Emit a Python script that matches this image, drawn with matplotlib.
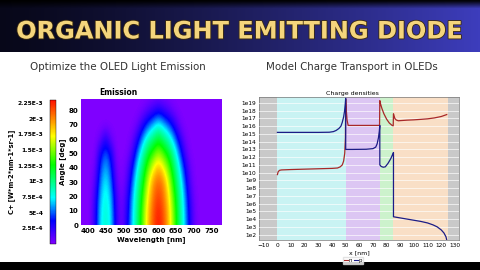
import numpy as np
import matplotlib
matplotlib.use('Agg')
import matplotlib.pyplot as plt
from matplotlib.colors import LinearSegmentedColormap
from matplotlib import patheffects as pe
from matplotlib.lines import Line2D

#%% data - emission map (values in 1e-3 W m-2 nm-1 sr-1)
wavelengths = [375, 390, 405, 420, 435, 450, 465, 480, 495, 510, 525, 540, 555, 570,
               585, 600, 615, 630, 645, 660, 675, 690, 705, 720, 735, 750, 765, 780]
angles = [0, 10, 20, 30, 40, 50, 60, 70, 80, 90]
emission = [
    # 375 390 405  420  435  450  465  480  495  510  525  540   555   570   585   600   615   630   645   660   675  690  705 720 735 750 765 780
    [0, 0, 0, .25, .72, .85, .72, .25, .04, .28, .67, 1.02, 1.43, 1.85, 2.14, 2.30, 2.14, 1.85, 1.43, 1.02, .67, .28, .04, 0, 0, 0, 0, 0],
    [0, 0, 0, .23, .70, .84, .70, .23, .03, .25, .64, 1.00, 1.40, 1.83, 2.12, 2.28, 2.12, 1.83, 1.40, 1.00, .64, .25, .03, 0, 0, 0, 0, 0],
    [0, 0, 0, .19, .64, .81, .64, .19, .02, .20, .59, .96, 1.32, 1.75, 2.05, 2.20, 2.05, 1.75, 1.32, .96, .59, .20, .02, 0, 0, 0, 0, 0],
    [0, 0, 0, .11, .55, .76, .55, .11, 0, .12, .48, .87, 1.20, 1.62, 1.98, 2.10, 1.98, 1.62, 1.20, .87, .48, .12, 0, 0, 0, 0, 0, 0],
    [0, 0, 0, .05, .45, .65, .45, .05, 0, .07, .35, .73, 1.07, 1.41, 1.70, 1.93, 1.70, 1.41, 1.07, .73, .35, .07, 0, 0, 0, 0, 0, 0],
    [0, 0, 0, 0, .34, .52, .34, 0, 0, .01, .17, .53, .88, 1.18, 1.37, 1.55, 1.37, 1.18, .88, .53, .17, .01, 0, 0, 0, 0, 0, 0],
    [0, 0, 0, 0, .07, .30, .07, 0, 0, 0, .05, .28, .60, .87, 1.03, 1.20, 1.03, .87, .60, .28, .05, 0, 0, 0, 0, 0, 0, 0],
    [0, 0, 0, 0, 0, 0, 0, 0, 0, 0, 0, .06, .27, .48, .64, .80, .64, .48, .27, .06, 0, 0, 0, 0, 0, 0, 0, 0],
    [0, 0, 0, 0, 0, 0, 0, 0, 0, 0, 0, 0, .03, .12, .21, .30, .21, .12, .03, 0, 0, 0, 0, 0, 0, 0, 0, 0],
    [0, 0, 0, 0, 0, 0, 0, 0, 0, 0, 0, 0, 0, 0, .01, .02, .01, 0, 0, 0, 0, 0, 0, 0, 0, 0, 0, 0],
]
cbar_ticks = [2.5e-4, 5e-4, 7.5e-4, 1e-3, 1.25e-3, 1.5e-3, 1.75e-3, 2e-3, 2.25e-3]
cbar_labels = ['2.5E-4', '5E-4', '7.5E-4', '1E-3', '1.25E-3', '1.5E-3', '1.75E-3', '2E-3', '2.25E-3']
wl_ticks = [400, 450, 500, 550, 600, 650, 700, 750]
angle_ticks = [0, 10, 20, 30, 40, 50, 60, 70, 80]

#%% data - charge densities (log10 of density)
x_p = [0, 10, 20, 30, 38, 41, 43, 45, 46.5, 47.5, 48.5, 49.2, 49.7, 50, 50, 55, 65, 70, 72, 73, 74,
       74.6, 75, 75, 76, 77.5, 79, 81, 83, 84.5, 85, 85, 90, 95, 100, 105, 110, 114, 117, 120, 122,
       123.5, 124]
logp = [15.2, 15.2, 15.2, 15.2, 15.22, 15.3, 15.45, 15.7, 16.0, 16.5, 17.2, 18.0, 18.9, 19.6, 13.0,
        13.0, 13.02, 13.1, 13.3, 13.7, 14.5, 15.3, 16.1, 11.0, 10.8, 10.7, 10.75, 11.2, 11.8, 12.4,
        12.6, 4.3, 4.15, 4.0, 3.85, 3.7, 3.5, 3.25, 3.0, 2.6, 2.2, 1.7, 1.3]
x_n = [0, 0.5, 1.5, 3, 10, 20, 30, 40, 44, 46, 47.5, 48.5, 49.3, 49.8, 50, 50.4, 51, 51.8, 55, 65,
       74.8, 75, 75.5, 76.5, 78, 80, 82, 84, 84.8, 85, 85.3, 86, 87, 88.5, 90, 95, 100, 105, 110,
       115, 120, 124]
logn = [9.75, 10.1, 10.3, 10.35, 10.4, 10.45, 10.5, 10.55, 10.6, 10.75, 11.0, 11.5, 12.5, 14.5, 19.5,
        18.2, 16.8, 16.1, 16.1, 16.1, 16.1, 19.3, 18.9, 18.3, 17.6, 16.9, 16.4, 16.1, 16.05, 17.6,
        17.4, 17.0, 16.8, 16.7, 16.72, 16.78, 16.82, 16.88, 16.95, 17.07, 17.25, 17.5]
layer_edges = [-20, 0, 50, 75, 85, 125, 140]
layer_colors = ['#c9c9c9', '#c9f3f3', '#dcc6f3', '#ccf2cc', '#f9dfc6', '#c9c9c9']
x_ticks = [-10, 0, 10, 20, 30, 40, 50, 60, 70, 80, 90, 100, 110, 120, 130]
dens_exp = [2, 3, 4, 5, 6, 7, 8, 9, 10, 11, 12, 13, 14, 15, 16, 17, 18, 19]
dens_labels = ['1e2', '1e3', '1e4', '1e5', '1e6', '1e7', '1e8', '1e9', '1e10', '1e11', '1e12',
               '1e13', '1e14', '1e15', '1e16', '1e17', '1e18', '1e19']

W, H = 480, 270
fig = plt.figure(figsize=(4.8, 2.7), dpi=100)


def px(l, t, w, h):
    return [l / W, 1 - (t + h) / H, w / W, h / H]


#%% banner
axb = fig.add_axes(px(0, 0, 480, 52))
tx = np.linspace(0, 1, 480)
left_c = np.array([0.03, 0.03, 0.10])
right_c = np.array([0.24, 0.24, 0.74])
row = left_c[None, :] * (1 - tx[:, None] ** 1.3) + right_c[None, :] * tx[:, None] ** 1.3
vert = np.clip((np.arange(52) - 1) / 8.0, 0.05, 1.0)
img = vert[:, None, None] * row[None, :, :]
axb.imshow(img, aspect='auto', extent=[0, 1, 0, 1])
axb.axis('off')
fig.text(0.5, 1 - 38.5 / H, 'ORGANIC LIGHT EMITTING DIODE', ha='center', va='baseline',
         fontsize=17.3, fontweight='bold', color='#f4d57c',
         path_effects=[pe.withStroke(linewidth=1.2, foreground='#3a2a10')])

# bottom strip
axs = fig.add_axes(px(0, 262, 480, 8))
axs.set_facecolor('black')
axs.set_xticks([]); axs.set_yticks([])
for s in axs.spines.values():
    s.set_visible(False)

fig.text(118 / W, 1 - 69.5 / H, 'Optimize the OLED Light Emission', ha='center', va='baseline',
         fontsize=7.4, color='#333333')
fig.text(352 / W, 1 - 69.5 / H, 'Model Charge Transport in OLEDs', ha='center', va='baseline',
         fontsize=7.4, color='#333333')

#%% emission map
cmap = LinearSegmentedColormap.from_list('oled', [
    (0.0, '#7f00ff'), (0.16, '#0000ff'), (0.32, '#00ffff'), (0.55, '#00ff00'),
    (0.75, '#ffff00'), (0.88, '#ff8000'), (1.0, '#ff1000')])
ax1 = fig.add_axes(px(81, 99, 141, 126))
em = np.array(emission) * 1e-3
dx = (wavelengths[1] - wavelengths[0]) / 2
dy = (angles[1] - angles[0]) / 2
im = ax1.imshow(em, origin='lower', aspect='auto', cmap=cmap, vmin=0, vmax=2.3e-3,
                interpolation='bicubic',
                extent=[wavelengths[0] - dx, wavelengths[-1] + dx, angles[0] - dy, angles[-1] + dy])
ax1.set_xlim(380, 780)
ax1.set_ylim(0, 88)
ax1.set_xticks(wl_ticks)
ax1.set_yticks(angle_ticks)
ax1.tick_params(length=0, labelsize=5, pad=2)
for lab in ax1.get_xticklabels() + ax1.get_yticklabels():
    lab.set_fontweight('bold')
for s in ax1.spines.values():
    s.set_visible(False)
ax1.set_xlabel('Wavelength [nm]', fontsize=5, fontweight='bold', labelpad=2)
ax1.set_ylabel('Angle [deg]', fontsize=5, fontweight='bold', labelpad=2)
fig.text(118 / W, 1 - 95 / H, 'Emission', ha='center', va='baseline', fontsize=5.5,
         fontweight='bold')

cax = fig.add_axes(px(50, 100, 6, 144))
cb = fig.colorbar(im, cax=cax)
cb.set_ticks(cbar_ticks)
cb.set_ticklabels(cbar_labels)
cb.outline.set_linewidth(0.3)
cax.yaxis.set_ticks_position('left')
cax.yaxis.set_label_position('left')
cax.tick_params(length=0, labelsize=4.3, pad=5)
for lab in cax.get_yticklabels():
    lab.set_fontweight('bold')
cb.set_label('C+ [W*m-2*nm-1*sr-1]', fontsize=4.8, fontweight='bold', labelpad=2)

#%% charge densities
ax2 = fig.add_axes(px(259, 97, 200, 143))
for i in range(len(layer_colors)):
    ax2.axvspan(layer_edges[i], layer_edges[i + 1], color=layer_colors[i], lw=0, zorder=0)
ax2.set_yscale('log')
ax2.set_yticks([10.0 ** e for e in dens_exp])
ax2.set_yticklabels(dens_labels)
ax2.yaxis.set_minor_locator(matplotlib.ticker.NullLocator())
ax2.grid(axis='y', color='white', lw=0.5, alpha=0.9, zorder=1)
ax2.set_axisbelow(False)
ax2.plot(x_n, 10.0 ** np.array(logn), color='#a82828', lw=0.9, zorder=3, label='n')
ax2.plot(x_p, 10.0 ** np.array(logp), color='#1c1c86', lw=0.9, zorder=3, label='p')
ax2.set_xlim(-13.5, 133)
ax2.set_ylim(10 ** 1.3, 10 ** 19.77)
ax2.set_xticks(x_ticks)
ax2.tick_params(length=0, labelsize=4.2, pad=2)
for s in ax2.spines.values():
    s.set_color('#777777')
    s.set_linewidth(0.5)
ax2.set_xlabel('x [nm]', fontsize=4.5, labelpad=2)
fig.text(352 / W, 1 - 94.5 / H, 'Charge densities', ha='center', va='baseline', fontsize=4.5)
handles = [Line2D([], [], color='#a82828', lw=0.8), Line2D([], [], color='#1c1c86', lw=0.8)]
fig.legend(handles, ['n', 'p'], loc='center', bbox_to_anchor=(353 / W, 1 - 260.5 / H), ncol=2,
           fontsize=4, handlelength=0.8, handletextpad=0.1, columnspacing=0.2,
           borderpad=0.15, frameon=True, fancybox=False, edgecolor='#dddddd')

fig.savefig('out.png', dpi=100, facecolor='white')
